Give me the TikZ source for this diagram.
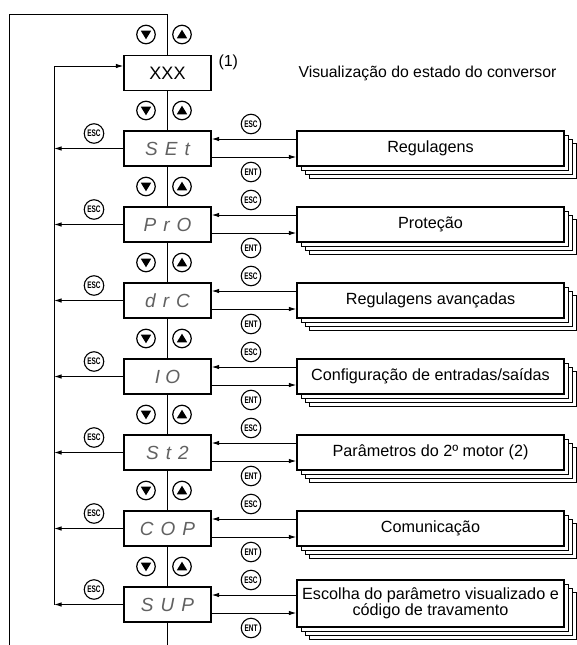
\documentclass[tikz,border=0pt]{standalone}
\usepackage{fontspec}
\setmainfont{Liberation Sans}
\usetikzlibrary{shadows,arrows.meta}
\begin{document}
\begin{tikzpicture}[x=1pt,y=-1pt,
  line width=1pt,
  disp/.style={draw,fill=white,line width=1.2pt,minimum width=87pt,minimum height=35pt,inner sep=0pt,
    font=\fontsize{19}{19}\selectfont\itshape,text=black!62},
  stk/.style={draw,fill=white,line width=1.2pt,minimum width=267pt,minimum height=35pt,inner sep=1pt,
    align=center,font=\fontsize{16.2}{15}\selectfont,
    copy shadow={shadow xshift=12.6pt,shadow yshift=-12.6pt},
    copy shadow={shadow xshift=8.4pt,shadow yshift=-8.4pt},
    copy shadow={shadow xshift=4.2pt,shadow yshift=-4.2pt}},
  arr/.style={-{Latex[length=7.5pt,width=4.5pt]}},
  kbtn/.style={draw,circle,minimum size=18.5pt,inner sep=0pt,line width=1.2pt},
  key/.style={draw,circle,minimum size=19.5pt,inner sep=0pt,line width=1.1pt,
    font=\fontsize{9.5}{9.5}\selectfont\bfseries},
  plain/.style={inner sep=0pt,font=\fontsize{16}{16}\selectfont},
]
\useasboundingbox (0,0) rectangle (576,645);

% display boxes
\node[disp,font=\fontsize{18}{18}\selectfont,text=black] (d0) at (167.5,73) {XXX};
\node[disp] (d1) at (167.5,148.5) {S\hspace{7pt}E\hspace{7pt}t};
\node[disp] (d2) at (167.5,224.5) {P\hspace{7pt}r\hspace{7pt}O};
\node[disp] (d3) at (167.5,300.5) {d\hspace{7pt}r\hspace{7pt}C};
\node[disp] (d4) at (167.5,376.5) {I\hspace{5pt}O};
\node[disp] (d5) at (167.5,452.5) {S\hspace{7pt}t\hspace{7pt}2};
\node[disp] (d6) at (167.5,528.5) {C\hspace{7pt}O\hspace{7pt}P};
\node[disp] (d7) at (167.5,604.5) {S\hspace{7pt}U\hspace{7pt}P};

% stacked boxes
\node[stk] (s1) at (430.5,148.5) {Regulagens};
\node[stk] (s2) at (430.5,224.5) {Proteção};
\node[stk] (s3) at (430.5,300.5) {Regulagens avançadas};
\node[stk] (s4) at (430.5,376.5) {Configuração de entradas/saídas};
\node[stk] (s5) at (430.5,452.5) {Parâmetros do 2º motor (2)};
\node[stk] (s6) at (430.5,528.5) {Comunicação};
\node[stk,minimum height=47pt] (s7) at (430.5,603.5) {Escolha do parâmetro visualizado e\\código de travamento};

% texts
\node[plain,anchor=west] (n1) at (218,62) {(1)};
\node[plain,anchor=west,font=\fontsize{15.8}{16}\selectfont] (vis) at (298,73) {Visualização do estado do conversor};

% main lines
\coordinate (ob) at (9,645);
\coordinate (ot) at (9,14);
\coordinate (ct) at (167.5,14);
\coordinate (cb) at (167.5,645);
\draw (ob) -- (ot) -- (ct) -- (d0.north);
\foreach \a/\b in {0/1,1/2,2/3,3/4,4/5,5/6,6/7} \draw (d\a.south) -- (d\b.north);
\draw (d7.south) -- (cb);

\coordinate (it) at (54,66);
\coordinate (ib) at (54,604.5);
\draw[arr] (ib) -- (it) -- (d0.west |- it);

\foreach \i in {1,...,7}{
  \draw[arr] (d\i.west) -- (ib |- d\i.west);
  \coordinate (e\i) at ([yshift=9.5pt]d\i.east);
  \coordinate (n\i) at ([yshift=-8.5pt]d\i.east);
  \draw[arr] (e\i -| s\i.west) -- (e\i);
  \draw[arr] (n\i) -- (n\i -| s\i.west);
}

% up/down buttons
\foreach \k/\y in {0/34.5,1/110.5,2/186.5,3/262.5,4/338.5,5/414.5,6/490.5,7/566.5}{
  \node[kbtn] (dn\k) at (146,\y) {};
  \node[kbtn] (up\k) at (182,\y) {};
  \fill (140.8,\y-3.8) -- (151.2,\y-3.8) -- (146,\y+4.8) -- cycle;
  \fill (176.8,\y+3.8) -- (187.2,\y+3.8) -- (182,\y-4.8) -- cycle;
}

% ESC / ENT keys
\foreach \k/\c in {1/148.5,2/224.5,3/300.5,4/376.5,5/452.5,6/528.5,7/604.5}{
  \node[key] (resc\k) at (251,\c-24.5) {\scalebox{0.68}[1]{ESC}};
  \node[key] (rent\k) at (251,\c+23.5) {\scalebox{0.68}[1]{ENT}};
  \node[key] (lesc\k) at (94,\c-15) {\scalebox{0.68}[1]{ESC}};
}
\end{tikzpicture}
\end{document}
